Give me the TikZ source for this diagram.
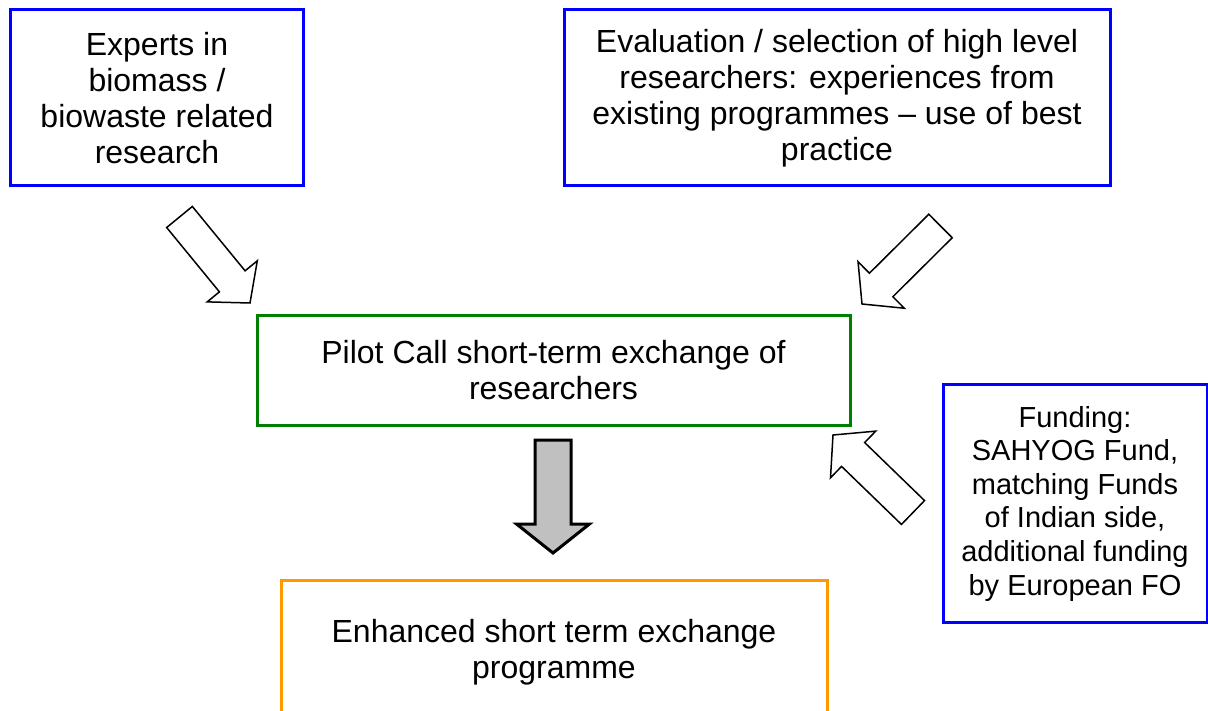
\documentclass[tikz,border=0pt]{standalone}
\usepackage{fontspec}
\setmainfont{Liberation Sans}
\usetikzlibrary{calc}

\definecolor{boxblue}{RGB}{0,0,255}
\definecolor{boxgreen}{RGB}{0,128,0}
\definecolor{boxorange}{RGB}{255,153,0}
\definecolor{arrowgray}{RGB}{192,192,192}

% block arrow: #1 style, #2 tail centre, #3 tip, #4 half shaft width, #5 half head width, #6 head length
\newcommand\blockarrow[6]{%
  \coordinate (ba-head) at ($(#3)!#6!(#2)$);
  \draw[#1]
    ($(#2)!#4!90:(#3)$) -- ($(ba-head)!#4!90:(#3)$) -- ($(ba-head)!#5!90:(#3)$)
    -- (#3)
    -- ($(ba-head)!#5!-90:(#3)$) -- ($(ba-head)!#4!-90:(#3)$) -- ($(#2)!#4!-90:(#3)$)
    -- cycle;
}

\tikzset{
  box/.style={draw, line width=3pt, fill=white, align=center, inner sep=0pt,
              font=\fontsize{32}{36}\selectfont},
  outline arrow/.style={draw=black, fill=white, line width=1.5pt, line join=miter},
  solid arrow/.style={draw=black, fill=arrowgray, line width=3pt, line join=miter},
}

\begin{document}
\begin{tikzpicture}[x=1pt, y=-1pt]
  \useasboundingbox (0,0) rectangle (1208,711);
  \clip (0,0) rectangle (1208,711);
  \fill[white] (0,0) rectangle (1208,711);

  % boxes
  \node[box, draw=boxblue, minimum width=293pt, minimum height=176pt] (experts) at (157,98)
    {Experts in\\biomass /\\biowaste related\\research};
  \node[box, draw=boxblue, minimum width=546pt, minimum height=176pt] (evaluation) at (837,98)
    {Evaluation / selection of high level\\researchers: experiences from\\existing programmes -- use of best\\practice};
  \node[box, draw=boxgreen, minimum width=593pt, minimum height=109pt] (pilot) at (553.5,370.5)
    {Pilot Call short-term exchange of\\researchers};
  \node[box, draw=boxorange, minimum width=546pt, minimum height=144pt] (enhanced) at (554,652)
    {Enhanced short term exchange\\programme};
  \node[box, draw=boxblue, minimum width=264pt, minimum height=237pt,
        font=\fontsize{29}{33.6}\selectfont] (funding) at (1075,503.5)
    {Funding:\\SAHYOG Fund,\\matching Funds\\of Indian side,\\additional funding\\by European FO};

  % arrow ends
  \coordinate (a1-tail) at (179.5,217);
  \coordinate (a1-tip)  at (250,303);
  \coordinate (a2-tail) at (940.5,226);
  \coordinate (a2-tip)  at (862,304);
  \coordinate (a3-tail) at (913,512.5);
  \coordinate (a3-tip)  at (833,435);
  \coordinate (a4-tail) at (553,440);
  \coordinate (a4-tip)  at (553,553);

  % arrows
  \blockarrow{outline arrow}{a1-tail}{a1-tip}{16.6pt}{32.4pt}{28pt}
  \blockarrow{outline arrow}{a2-tail}{a2-tip}{16.6pt}{32.8pt}{27pt}
  \blockarrow{outline arrow}{a3-tail}{a3-tip}{16.6pt}{32.5pt}{28pt}
  \blockarrow{solid arrow}{a4-tail}{a4-tip}{18pt}{36.5pt}{29pt}
\end{tikzpicture}
\end{document}
